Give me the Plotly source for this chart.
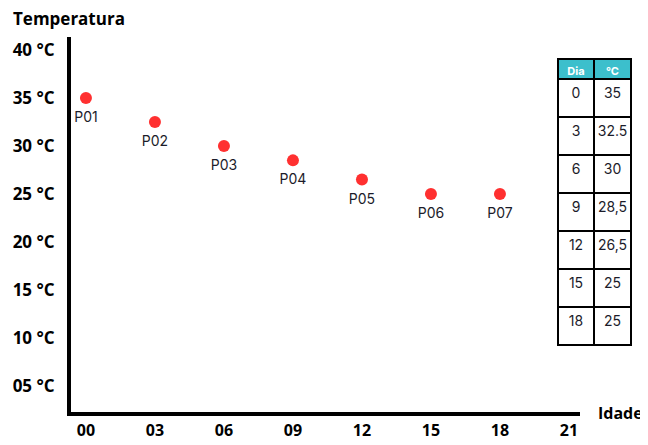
import plotly.graph_objects as go

# ---- data ----
days = [0, 3, 6, 9, 12, 15, 18]
temps = [35, 32.5, 30, 28.5, 26.5, 25, 25]
point_labels = ["P01", "P02", "P03", "P04", "P05", "P06", "P07"]

x_tick_vals = [0, 3, 6, 9, 12, 15, 18, 21]
x_tick_text = ["00", "03", "06", "09", "12", "15", "18", "21"]
y_tick_vals = [5, 10, 15, 20, 25, 30, 35, 40]
y_tick_text = ["05 °C", "10 °C", "15 °C", "20 °C", "25 °C", "30 °C", "35 °C", "40 °C"]

table_header = ["Dia", "°C"]
table_days = ["0", "3", "6", "9", "12", "15", "18"]
table_temps = ["35", "32.5", "30", "28,5", "26,5", "25", "25"]

# page body has an 8px margin: draw a slightly smaller figure and offset coordinates
OFF = 8
W, H = 648 - OFF, 445 - OFF


def px(x):
    return (x - OFF) / W


def py(y):
    return 1 - (y - OFF) / H


fig = go.Figure()

# visible points
fig.add_trace(go.Scatter(
    x=days, y=temps, mode="markers",
    marker=dict(color="#ff3030", size=12),
    showlegend=False, cliponaxis=False, hoverinfo="skip",
))
# point labels (set a little further below the points)
fig.add_trace(go.Scatter(
    x=days, y=temps, text=point_labels,
    mode="markers+text", textposition="bottom center",
    marker=dict(color="rgba(0,0,0,0)", size=20),
    textfont=dict(family="Inter, Open Sans, sans-serif", size=14, color="#1c1c2a"),
    showlegend=False, cliponaxis=False,
))

fig.add_trace(go.Table(
    domain=dict(x=[px(558), px(632)], y=[py(352), py(59)]),
    columnwidth=[36, 37],
    header=dict(values=table_header, height=20, fill_color="#3cbfcc",
                line=dict(color="black", width=2), align="center",
                font=dict(family="Inter, sans-serif", size=11, color="white", weight="bold")),
    cells=dict(values=[table_days, table_temps], height=38, fill_color="white",
               line=dict(color="black", width=2), align="center",
               font=dict(family="Inter, sans-serif", size=14, color="#1c1c2a")),
))

fig.update_layout(
    width=W, height=H,
    margin=dict(l=0, r=0, t=0, b=0),
    plot_bgcolor="white", paper_bgcolor="white",
    xaxis=dict(
        domain=[px(71), px(580)], range=[-0.65, 21.48],
        tickvals=x_tick_vals, ticktext=x_tick_text,
        showgrid=False, zeroline=False,
        showline=True, linecolor="black", linewidth=4,
        ticks="outside", ticklen=1, tickcolor="rgba(0,0,0,0)",
        tickfont=dict(family="Open Sans", size=16, color="black", weight="bold"),
        automargin=False, fixedrange=True,
    ),
    yaxis=dict(
        domain=[py(412), py(37)], range=[2.29, 41.35],
        tickvals=y_tick_vals, ticktext=y_tick_text,
        showgrid=False, zeroline=False,
        showline=True, linecolor="black", linewidth=4,
        ticks="outside", ticklen=9, tickcolor="rgba(0,0,0,0)",
        tickfont=dict(family="Open Sans", size=17, color="black", weight="bold"),
        automargin=False, fixedrange=True,
    ),
    annotations=[
        dict(text="Temperatura", x=px(11), y=py(18), xref="paper", yref="paper",
             xanchor="left", yanchor="middle", showarrow=False,
             font=dict(family="Open Sans", size=17, color="black", weight="bold")),
        dict(text="Idade", x=px(596), y=py(413), xref="paper", yref="paper",
             xanchor="left", yanchor="middle", showarrow=False,
             font=dict(family="Open Sans", size=16, color="black", weight="bold")),
    ],
)

fig.write_html("out.html")
